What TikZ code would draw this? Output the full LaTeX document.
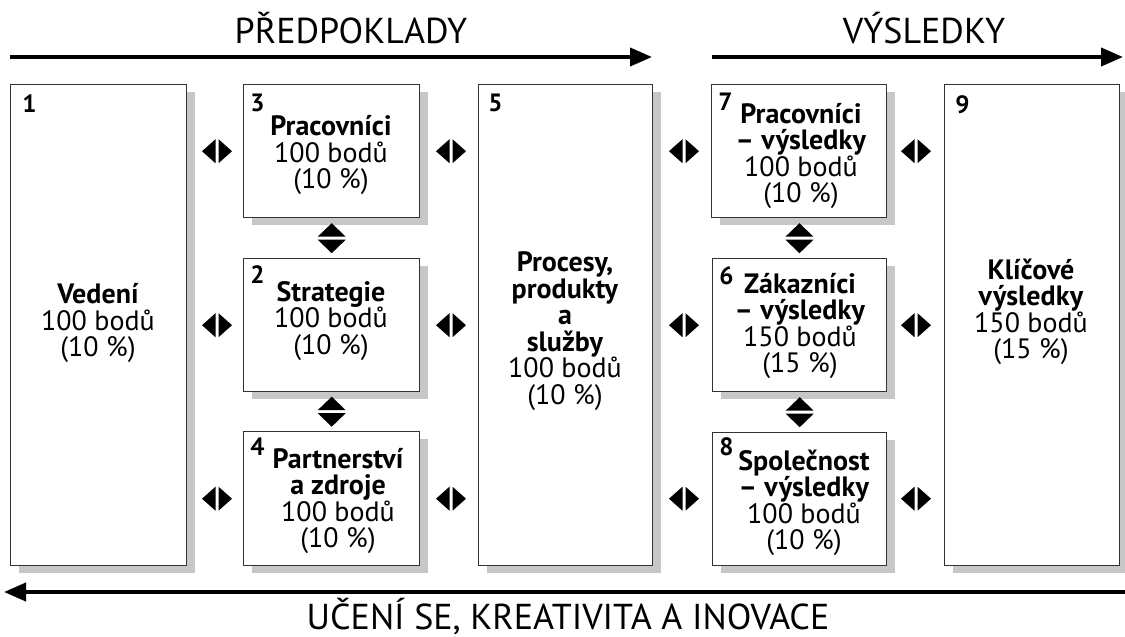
\documentclass[tikz,border=0pt]{standalone}
\usepackage{fontspec}
\setmainfont{PT Sans}
\usetikzlibrary{shadows,arrows.meta,calc}

\tikzstyle{krit}=[rectangle, draw=black!80, line width=0.7pt, fill=white, minimum width=88pt, anchor=north west, inner sep=0pt, drop shadow={shadow xshift=4pt, shadow yshift=-3.5pt, fill=black!22, opacity=1}]
\tikzstyle{velky}=[krit, minimum height=240.5pt]
\tikzstyle{maly}=[krit, minimum height=66.5pt]
\tikzstyle{popis}=[align=center, inner sep=0pt, font=\fontsize{14}{13.25}\selectfont]
\tikzstyle{cislo}=[anchor=north west, inner sep=0pt, font=\bfseries\fontsize{12.5}{12.5}\selectfont]
\tikzstyle{nadpis}=[anchor=base, inner sep=0pt, font=\fontsize{18}{18}\selectfont]

\begin{document}
\begin{tikzpicture}[x=0.5pt, y=-0.5pt, sipka/.style = {line width=2pt, -{Triangle[length=11pt, width=9pt]}},
    lr/.pic = {\fill (-1.5,-12) -- (-15,0) -- (-1.5,12) -- cycle; \fill (1.5,-12) -- (15,0) -- (1.5,12) -- cycle;},
    ud/.pic = {\fill (-14,-1.5) -- (0,-15) -- (14,-1.5) -- cycle; \fill (-14,1.5) -- (0,15) -- (14,1.5) -- cycle;}]
    \useasboundingbox (0,0) rectangle (1125,637);

    % nadpisy a sipky
    \node[nadpis] (predp) at (351,43) {PŘEDPOKLADY};
    \node[nadpis] (vysl) at (924,43) {VÝSLEDKY};
    \node[nadpis] (uceni) at (568,629) {UČENÍ SE, KREATIVITA A INOVACE};
    \coordinate (a0) at (10,57);
    \coordinate (a1) at (652,57);
    \coordinate (b0) at (712,57);
    \coordinate (b1) at (1123,57);
    \coordinate (c0) at (1125,592);
    \coordinate (c1) at (4,592);
    \draw[sipka] (a0) -- (a1);
    \draw[sipka] (b0) -- (b1);
    \draw[sipka] (c0) -- (c1);

    % kriteria
    \node[velky] (k1) at (10,84) {};
    \node[maly] (k3) at (243,84) {};
    \node[maly] (k2) at (243,258) {};
    \node[maly, minimum height=67pt] (k4) at (243,431) {};
    \node[velky, minimum width=87pt] (k5) at (478,84) {};
    \node[maly, minimum width=87.5pt] (k7) at (711,84) {};
    \node[maly, minimum width=87pt] (k6) at (712,258) {};
    \node[maly, minimum width=87pt] (k8) at (712,432) {};
    \node[velky, minimum width=87.5pt] (k9) at (944,84) {};

    \node[cislo, xshift=6pt, yshift=-5pt] (n1) at (k1.north west) {1};
    \node[cislo, xshift=3.5pt, yshift=-5pt] (n3) at (k3.north west) {3};
    \node[cislo, xshift=3.5pt, yshift=-3.5pt] (n2) at (k2.north west) {2};
    \node[cislo, xshift=3.5pt, yshift=-3pt] (n4) at (k4.north west) {4};
    \node[cislo, xshift=5pt, yshift=-5pt] (n5) at (k5.north west) {5};
    \node[cislo, xshift=3.5pt, yshift=-4.5pt] (n7) at (k7.north west) {7};
    \node[cislo, xshift=3.5pt, yshift=-4pt] (n6) at (k6.north west) {6};
    \node[cislo, xshift=3.5pt, yshift=-2.5pt] (n8) at (k8.north west) {8};
    \node[cislo, xshift=5.5pt, yshift=-5.5pt] (n9) at (k9.north west) {9};

    \node[popis] (t1) at (98,323) {\textbf{Vedení}\\100 bodů\\(10 \%)};
    \node[popis] (t3) at (331,155) {\textbf{Pracovníci}\\100 bodů\\(10 \%)};
    \node[popis] (t2) at (331,321) {\textbf{Strategie}\\100 bodů\\(10 \%)};
    \node[popis] (t4) at (338,501) {\textbf{Partnerství}\\\textbf{a zdroje}\\100 bodů\\(10 \%)};
    \node[popis] (t5) at (565,331) {\textbf{Procesy,}\\\textbf{produkty}\\\textbf{a}\\\textbf{služby}\\100 bodů\\(10 \%)};
    \node[popis] (t7) at (801,156) {\textbf{Pracovníci}\\\textbf{– výsledky}\\100 bodů\\(10 \%)};
    \node[popis] (t6) at (800,326) {\textbf{Zákazníci}\\\textbf{– výsledky}\\150 bodů\\(15 \%)};
    \node[popis] (t8) at (804,503) {\textbf{Společnost}\\\textbf{– výsledky}\\100 bodů\\(10 \%)};
    \node[popis] (t9) at (1031,312) {\textbf{Klíčové}\\\textbf{výsledky}\\150 bodů\\(15 \%)};

    % vazby mezi kriterii
    \foreach \r/\x in {k3/217, k3/451, k3/684, k3/916, k2/217, k2/451, k2/684, k2/916, k4/217, k4/451, k4/684, k4/916} {
      \path (\x,0 |- \r.center) pic {lr};
    }
    \foreach \h/\d in {k3/k2, k2/k4, k7/k6, k6/k8} {
      \path ($(\h.south)!0.5!(\d.north)$) pic {ud};
    }
  \end{tikzpicture}
\end{document}
